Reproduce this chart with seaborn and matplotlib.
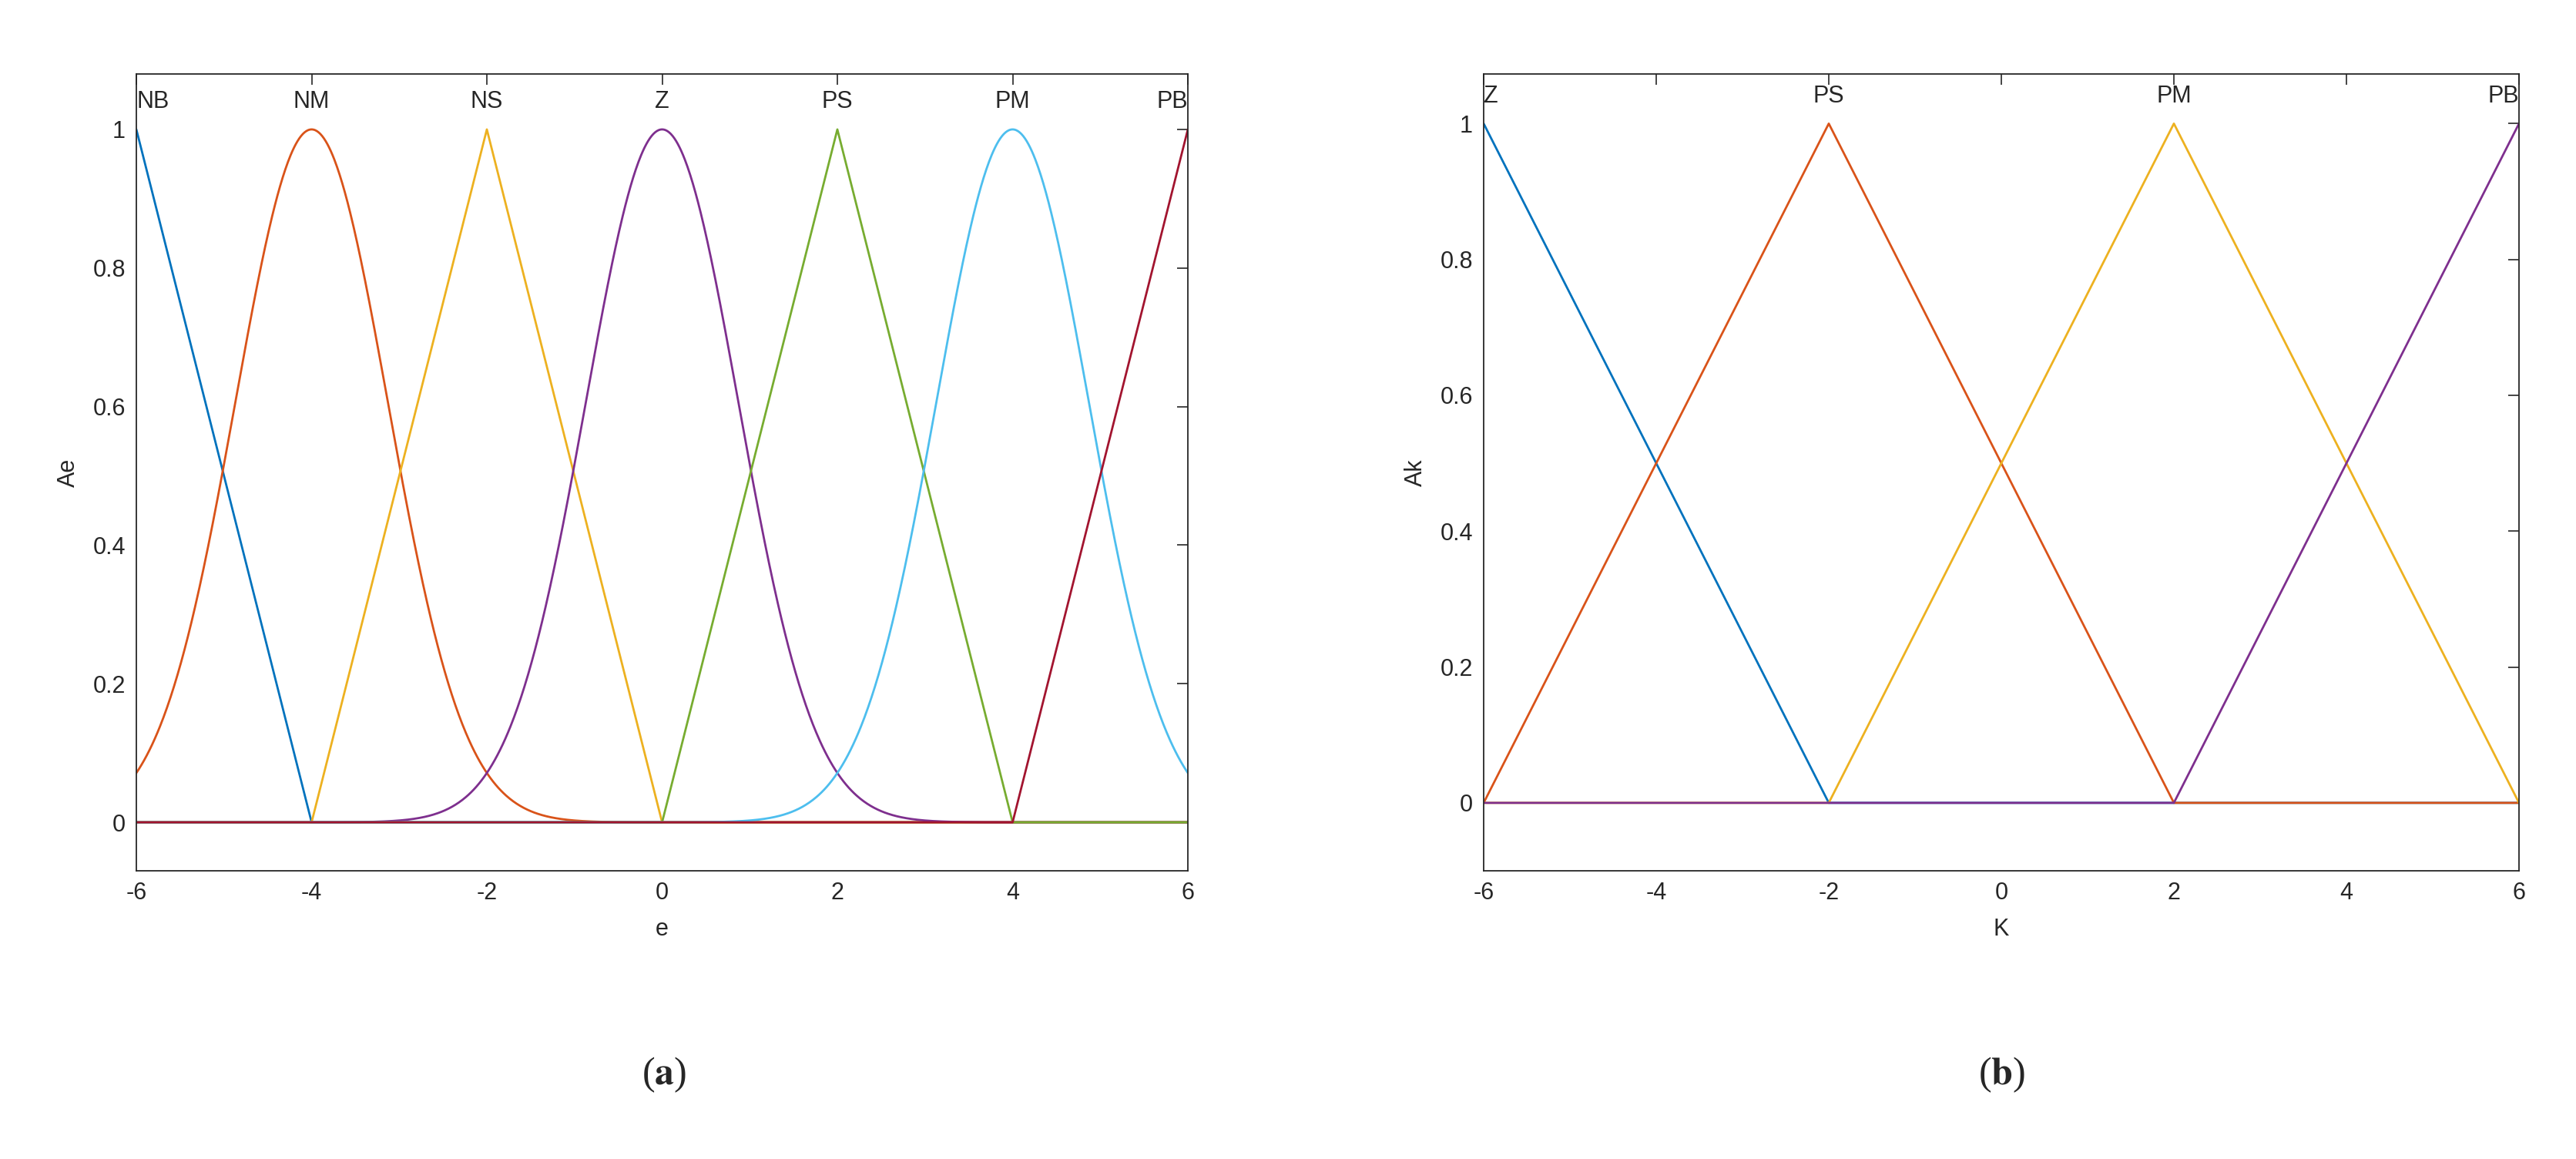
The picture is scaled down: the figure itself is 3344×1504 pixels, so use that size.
import numpy as np
import matplotlib
matplotlib.use("Agg")
import matplotlib.pyplot as plt
import seaborn as sns

sns.set_style("white")
plt.rcParams['font.family'] = ['Liberation Sans', 'DejaVu Sans']
plt.rcParams['axes.unicode_minus'] = False
plt.rcParams['mathtext.fontset'] = 'stix'

colors = ["#0072BD", "#D95319", "#EDB120", "#7E2F8E", "#77AC30", "#4DBEEE", "#A2142F"]

# Panel (a): membership functions of e
a_labels = ["NB", "NM", "NS", "Z", "PS", "PM", "PB"]
a_types = ["tri", "gauss", "tri", "gauss", "tri", "gauss", "tri"]
a_params = [(-8, -6, -4), (0.87, -4), (-4, -2, 0), (0.87, 0), (0, 2, 4), (0.87, 4), (4, 6, 8)]
a_label_x = [-6, -4, -2, 0, 2, 4, 6]

# Panel (b): membership functions of K
b_labels = ["Z", "PS", "PM", "PB"]
b_params = [(-10, -6, -2), (-6, -2, 2), (-2, 2, 6), (2, 6, 10)]
b_label_x = [-6, -2, 2, 6]

x = np.linspace(-6, 6, 1201)

def tri(x, a, b, c):
    return np.maximum(np.minimum((x - a) / (b - a), (c - x) / (c - b)), 0)

def gauss(x, s, c):
    return np.exp(-(x - c) ** 2 / (2 * s ** 2))

fig = plt.figure(figsize=(33.44, 15.04), dpi=100)
ax1 = fig.add_axes([177/3344, 1-1130/1504, 1365/3344, 1034/1504])
ax2 = fig.add_axes([1926/3344, 1-1130/1504, 1344/3344, 1034/1504])

def style(ax, xlabel, ylabel, ylim):
    ax.set_xlim(-6, 6)
    ax.set_ylim(*ylim)
    ax.set_xticks([-6, -4, -2, 0, 2, 4, 6])
    ax.set_yticks([0, 0.2, 0.4, 0.6, 0.8, 1])
    ax.set_yticklabels(["0", "0.2", "0.4", "0.6", "0.8", "1"])
    ax.tick_params(direction="in", length=10, width=1.2, top=True, right=True,
                   labelsize=22, colors="#262626", pad=10)
    for sp in ax.spines.values():
        sp.set_color("#262626"); sp.set_linewidth(1.3)
    ax.set_xlabel(xlabel, fontsize=22, color="#262626", labelpad=12)
    ax.set_ylabel(ylabel, fontsize=22, color="#262626", labelpad=12)

for i, (t, p) in enumerate(zip(a_types, a_params)):
    y = tri(x, *p) if t == "tri" else gauss(x, *p)
    sns.lineplot(x=x, y=y, ax=ax1, color=colors[i], linewidth=2.0)
for lab, lx in zip(a_labels, a_label_x):
    ha = "left" if lx == -6 else ("right" if lx == 6 else "center")
    ax1.text(lx, 1.04, lab, ha=ha, va="center", fontsize=22, color="#262626")
style(ax1, "e", "Ae", (-0.07, 1.08))

for i, p in enumerate(b_params):
    sns.lineplot(x=x, y=tri(x, *p), ax=ax2, color=colors[i], linewidth=2.0)
for lab, lx in zip(b_labels, b_label_x):
    ha = "left" if lx == -6 else ("right" if lx == 6 else "center")
    ax2.text(lx, 1.04, lab, ha=ha, va="center", fontsize=22, color="#262626")
style(ax2, "K", "Ak", (-0.1, 1.073))

for cx, letter in [(862/3344, "a"), (2598/3344, "b")]:
    fig.text(cx, 1-1395/1504, "(" + r"$\mathbf{" + letter + "}$" + ")", ha="center", va="center",
             fontsize=36, family="Liberation Serif")

fig.savefig("out.png", dpi=100, facecolor="white")
